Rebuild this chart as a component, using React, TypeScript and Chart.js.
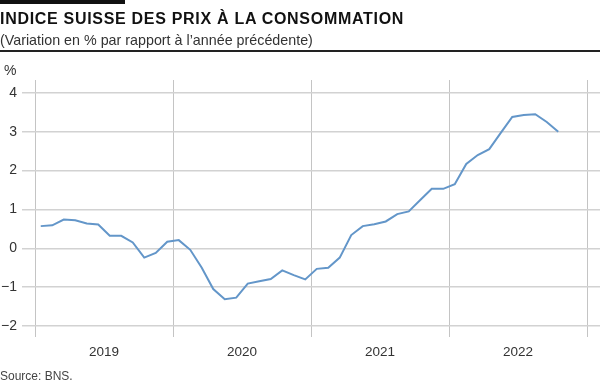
import React, { useEffect, useRef } from "react";
import { Chart, registerables } from "chart.js";

Chart.register(...registerables);

const yearLabels = ["2019", "2020", "2021", "2022"];
const yTicks = [-2, -1, 0, 1, 2, 3, 4];
const cpiValues = [
  0.57, 0.59, 0.74, 0.72, 0.64, 0.61, 0.32, 0.32, 0.15, -0.24, -0.12, 0.17,
  0.21, -0.04, -0.5, -1.05, -1.31, -1.27, -0.91, -0.85, -0.79, -0.57, -0.69, -0.8,
  -0.53, -0.5, -0.24, 0.34, 0.57, 0.62, 0.69, 0.88, 0.95, 1.24, 1.53, 1.53,
  1.65, 2.17, 2.4, 2.55, 2.97, 3.38, 3.43, 3.45, 3.25, 3.0,
];

const FONT = "'Liberation Sans', Arial, sans-serif";

export default function App() {
  const ref = useRef<HTMLCanvasElement | null>(null);

  useEffect(() => {
    if (!ref.current) return;
    const points = cpiValues.map((v, i) => ({ x: i + 0.5, y: v }));
    const xTickVals: number[] = [];
    for (let i = 0; i <= yearLabels.length * 2; i++) xTickVals.push(i * 6);
    const chart = new Chart(ref.current, {
      type: "line",
      data: {
        datasets: [
          {
            data: points,
            borderColor: "#6396c9",
            borderWidth: 2,
            pointRadius: 0,
            tension: 0,
            fill: false,
          },
        ],
      },
      options: {
        animation: false,
        responsive: false,
        maintainAspectRatio: false,
        layout: { padding: { top: 80, right: 0, left: 0, bottom: 0 } },
        plugins: { legend: { display: false }, tooltip: { enabled: false } },
        scales: {
          x: {
            type: "linear",
            min: 0,
            max: 49.13,
            afterBuildTicks: (s: any) => {
              s.ticks = xTickVals.map((v) => ({ value: v }));
            },
            afterFit: (s: any) => {
              s.height = 57;
            },
            border: { display: false },
            grid: {
              color: (ctx: any) =>
                ctx.tick && ctx.tick.value % 12 === 0 ? "#c4c4c4" : "rgba(0,0,0,0)",
              lineWidth: 1,
              drawTicks: true,
              tickLength: 11,
            },
            ticks: {
              autoSkip: false,
              maxRotation: 0,
              padding: 7,
              color: "#333",
              font: { family: FONT, size: 13.5 },
              callback: (v: any) => {
                const n = Number(v);
                if (n % 12 === 6) return yearLabels[Math.floor(n / 12)];
                return "";
              },
            },
          },
          y: {
            type: "linear",
            min: -2,
            max: 4.33,
            afterBuildTicks: (s: any) => {
              s.ticks = yTicks.map((v) => ({ value: v }));
            },
            afterFit: (s: any) => {
              s.width = 35;
            },
            border: { display: false },
            grid: {
              color: "#d2d2d2",
              lineWidth: 1.5,
              drawTicks: true,
              tickLength: 13,
            },
            ticks: {
              padding: 5,
              color: "#333",
              font: { family: FONT, size: 14 },
              callback: (v: any) => {
                const n = Number(v);
                return n < 0 ? "\u2212" + Math.abs(n) : String(n);
              },
            },
          },
        },
      },
    });
    return () => chart.destroy();
  }, []);

  return (
    <div
      style={{
        position: "absolute",
        left: 0,
        top: 0,
        width: 600,
        height: 383,
        background: "#fff",
        fontFamily: FONT,
        overflow: "hidden",
      }}
    >
      <canvas
        ref={ref}
        width={600}
        height={383}
        style={{ position: "absolute", left: 0, top: 0, width: 600, height: 383 }}
      />
      <div style={{ position: "absolute", left: 0, top: 0, width: 125, height: 4, background: "#111" }} />
      <div
        style={{
          position: "absolute",
          left: 0,
          top: 9,
          fontSize: 16,
          fontWeight: "bold",
          color: "#111",
          whiteSpace: "nowrap",
          lineHeight: "19px",
          letterSpacing: 0.7,
        }}
      >
        INDICE SUISSE DES PRIX À LA CONSOMMATION
      </div>
      <div
        style={{
          position: "absolute",
          left: 0,
          top: 32,
          fontSize: 14.3,
          color: "#333",
          whiteSpace: "nowrap",
          lineHeight: "16px",
        }}
      >
        (Variation en % par rapport à l’année précédente)
      </div>
      <div style={{ position: "absolute", left: 0, top: 50, width: 600, height: 2, background: "#222" }} />
      <div style={{ position: "absolute", left: 4, top: 62, fontSize: 14, color: "#333", lineHeight: "16px" }}>%</div>
      <div style={{ position: "absolute", left: 0, top: 369, fontSize: 12, color: "#444", lineHeight: "14px" }}>
        Source: BNS.
      </div>
    </div>
  );
}
